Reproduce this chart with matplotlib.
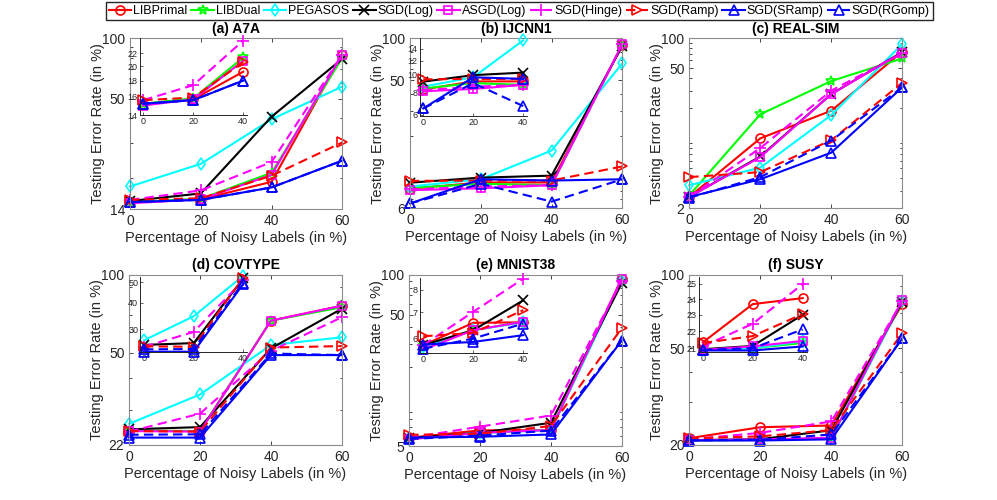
import numpy as np
import matplotlib
matplotlib.use('Agg')
import matplotlib.pyplot as plt
from matplotlib.ticker import FixedLocator, FixedFormatter, NullFormatter, NullLocator

plt.rcParams['font.family'] = ['Liberation Sans', 'DejaVu Sans']

# ---------------- data ----------------
methods = ['LIBPrimal', 'LIBDual', 'PEGASOS', 'SGD(Log)', 'ASGD(Log)',
           'SGD(Hinge)', 'SGD(Ramp)', 'SGD(SRamp)', 'SGD(RGomp)']
noise = [0, 20, 40, 60]

# rows follow the order of `methods`, columns follow `noise`
a7a = [[15.2, 15.7, 19.2, 83.0],
       [15.2, 15.8, 21.3, 80.0],
       [18.2, 23.6, 39.4, 57.4],
       [15.4, 16.8, 40.6, 79.0],
       [15.0, 15.7, 20.8, 83.0],
       [15.6, 17.4, 24.1, 83.0],
       [15.6, 15.9, 20.6, 30.2],
       [15.2, 15.6, 18.0, 24.5],
       [15.2, 15.6, 18.0, 24.5]]

ijcnn1 = [[8.3, 9.2, 9.2, 90.0],
          [8.4, 9.0, 8.8, 90.0],
          [8.6, 9.7, 15.6, 66.0],
          [9.17, 9.97, 10.3, 88.0],
          [8.1, 8.35, 8.8, 91.0],
          [8.2, 8.6, 8.8, 91.0],
          [9.44, 9.5, 9.5, 12.0],
          [6.5, 9.7, 9.5, 9.7],
          [6.5, 9.0, 6.7, 9.7]]

realsim = [[2.6, 10.0, 18.9, 73.5],
           [2.7, 17.4, 37.4, 63.0],
           [3.4, 5.1, 17.1, 87.6],
           [2.6, 6.6, 27.7, 73.0],
           [2.6, 6.5, 27.7, 72.0],
           [2.6, 8.0, 30.0, 71.0],
           [4.1, 4.6, 9.6, 36.0],
           [2.6, 3.9, 7.2, 32.4],
           [2.55, 4.1, 9.5, 32.4]]

covtype = [[25.0, 24.9, 66.6, 76.0],
           [25.0, 24.9, 66.6, 75.0],
           [26.6, 34.5, 53.6, 57.4],
           [25.3, 25.8, 52.0, 74.0],
           [24.9, 24.8, 66.6, 76.0],
           [24.8, 29.1, 50.9, 68.6],
           [24.9, 24.8, 52.4, 53.1],
           [23.5, 23.5, 49.0, 49.0],
           [24.1, 24.2, 49.7, 49.0]]

mnist38 = [[5.77, 6.58, 6.6, 94.0],
           [5.75, 6.3, 6.62, 90.0],
           [5.7, 6.3, 6.6, 90.0],
           [5.77, 6.3, 7.51, 86.5],
           [5.62, 6.3, 6.62, 94.0],
           [5.77, 7.02, 8.53, 90.0],
           [6.08, 6.2, 7.09, 39.3],
           [5.79, 5.88, 6.12, 31.7],
           [5.65, 6.0, 6.55, 31.7]]

susy = [[21.33, 23.67, 24.06, 76.0],
        [20.9, 21.0, 21.3, 78.0],
        [20.9, 21.0, 21.4, 78.0],
        [20.94, 21.13, 23.0, 77.5],
        [20.9, 21.1, 21.42, 79.0],
        [21.1, 22.44, 25.0, 78.0],
        [21.3, 21.7, 23.04, 57.6],
        [20.87, 20.87, 21.1, 54.9],
        [20.9, 21.0, 22.1, 54.9]]

titles = ['(a) A7A', '(b) IJCNN1', '(c) REAL-SIM', '(d) COVTYPE', '(e) MNIST38', '(f) SUSY']
datasets = [a7a, ijcnn1, realsim, covtype, mnist38, susy]
y_low = [14, 6, 2, 22, 5, 20]

# inset settings (None = no inset)
inset_ylim = [(14, 24.5), (5.9, 16), None, (23.5, 53), (5.5, 8.55), (20.8, 25.5)]
inset_ticks = [[14, 16, 18, 20, 22], [6, 8, 10, 12, 14], None, [30, 40, 50], [6, 7, 8], [21, 22, 23, 24, 25]]
inset_skip = [[2, 3], [], None, [0, 1, 4], [], []]

# ---------------- style ----------------
colors = ['#ff0000', '#00ff00', '#00ffff', '#000000', '#ff00ff',
          '#ff00ff', '#ff0000', '#0000ff', '#0000ff']
markers = ['o', '*', 'd', 'x', 's', '+', '>', '^', '^']
dash = (0, (4.5, 2.5))
styles = ['-', '-', '-', '-', '-', dash, dash, '-', dash]
msizes = [6.5, 7.5, 6.5, 7, 6, 8, 7, 7.5, 7.5]

W, H = 997, 500
fig = plt.figure(figsize=(W / 100, H / 100), dpi=100)


def box(x0, y0, x1, y1):
    return [x0 / W, 1 - y1 / H, (x1 - x0) / W, (y1 - y0) / H]


main_boxes = [(130, 38.3, 342.3, 209.3), (410, 38.3, 622.3, 208.3), (689.3, 38.3, 902.3, 208.3),
              (129.3, 275, 341.7, 445), (409.3, 275, 621.7, 446), (689.3, 275, 902.3, 445)]
inset_boxes = [(139.5, 38.3, 247, 115), (419.5, 38.3, 527, 116), None,
               (140.3, 276.7, 247, 351.7), (419.5, 278.3, 527, 353.3), (699, 276.7, 806.5, 351.7)]

axis_col = '#262626'
handles = []
for k in range(6):
    ax = fig.add_axes(box(*main_boxes[k]))
    data = datasets[k]
    for i in range(len(methods)):
        ln, = ax.plot(noise, data[i], color=colors[i], linestyle=styles[i], linewidth=1.5,
                      marker=markers[i], markersize=msizes[i], markerfacecolor='none',
                      markeredgewidth=1.2, clip_on=False)
        if k == 0:
            handles.append(ln)
    ax.set_yscale('log')
    ax.set_xlim(0, 60)
    ax.set_ylim(y_low[k], 100)
    ax.yaxis.set_major_locator(FixedLocator([y_low[k], 50, 100]))
    ax.yaxis.set_major_formatter(FixedFormatter([str(y_low[k]), '50', '100']))
    ax.yaxis.set_minor_formatter(NullFormatter())
    ax.set_xticks([0, 20, 40, 60])
    ax.tick_params(which='both', direction='in', top=True, right=True, colors=axis_col,
                   labelsize=10, width=0.6)
    ax.tick_params(which='major', length=3)
    ax.tick_params(which='minor', length=1.8)
    for s in ax.spines.values():
        s.set_color('#8c8c8c')
        s.set_linewidth(0.8)
    ax.set_xlabel('Percentage of Noisy Labels (in %)', fontsize=10.5, color=axis_col, labelpad=2)
    ax.set_ylabel('Testing Error Rate (in %)', fontsize=10.5, color=axis_col, labelpad=-2)
    ax.set_title(titles[k], fontsize=10, fontweight='bold', pad=4)

    if inset_boxes[k] is not None:
        ins = fig.add_axes(box(*inset_boxes[k]))
        for i in range(len(methods)):
            if i in inset_skip[k]:
                continue
            ins.plot(noise[:3], data[i][:3], color=colors[i], linestyle=styles[i], linewidth=1.5,
                     marker=markers[i], markersize=msizes[i], markerfacecolor='none',
                     markeredgewidth=1.2, clip_on=False)
        ins.set_yscale('log')
        ins.set_xlim(-1.5, 41.5)
        ins.set_ylim(*inset_ylim[k])
        ins.yaxis.set_major_locator(FixedLocator(inset_ticks[k]))
        ins.yaxis.set_major_formatter(FixedFormatter([str(t) for t in inset_ticks[k]]))
        ins.yaxis.set_minor_locator(NullLocator())
        ins.set_xticks([0, 20, 40])
        ins.spines['top'].set_visible(False)
        ins.spines['right'].set_visible(False)
        for s in ['left', 'bottom']:
            ins.spines[s].set_color(axis_col)
            ins.spines[s].set_linewidth(0.7)
        ins.tick_params(direction='in', length=2, width=0.5, labelsize=6.5, colors=axis_col, pad=1.5)
        ins.patch.set_alpha(0)

fig.legend(handles, methods, loc='upper center', bbox_to_anchor=(0.521, 1.0), ncol=9,
           fontsize=9, frameon=True, fancybox=False, edgecolor='#262626', framealpha=1,
           handlelength=1.8, handletextpad=0.15, columnspacing=0.3, borderpad=0.25,
           borderaxespad=0.15, numpoints=1)

fig.savefig('out.png', dpi=100)
